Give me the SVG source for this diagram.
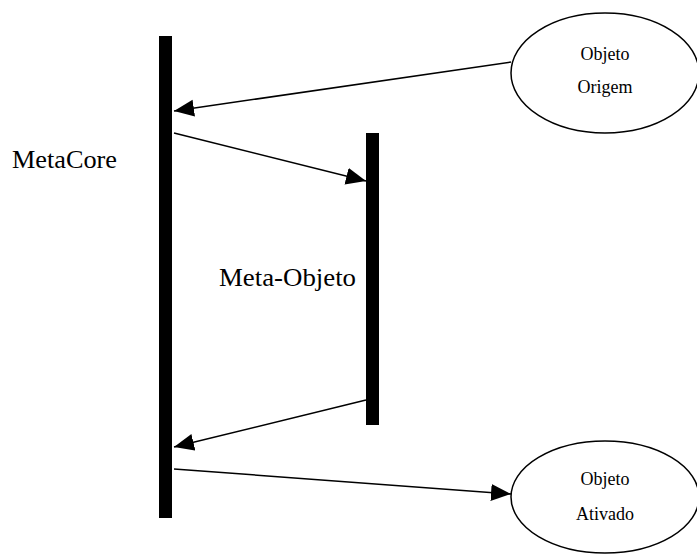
<svg xmlns="http://www.w3.org/2000/svg" width="697" height="554" viewBox="0 0 697 554">
<defs>
<marker id="ah" markerUnits="userSpaceOnUse" markerWidth="22" markerHeight="20" refX="20" refY="8.5" orient="auto">
<path d="M0,0 L20,8.5 L0,17 Z" fill="#000"/>
</marker>
<style>
.lbl{font-family:"Liberation Serif","Times New Roman",serif;fill:#000}
.big{font-size:25px}
.sm{font-size:18px}
.bar{fill:#000}
.ell{fill:#fff;stroke:#000;stroke-width:1.5}
.con{stroke:#000;stroke-width:1.5;fill:none;marker-end:url(#ah)}
</style>
</defs>
<rect width="697" height="554" fill="#fff"/>
<g id="metacore">
<rect class="bar" x="159" y="36" width="13" height="482"/>
<text class="lbl big" x="12" y="168" textLength="105" lengthAdjust="spacingAndGlyphs">MetaCore</text>
</g>
<g id="meta-objeto">
<rect class="bar" x="366" y="133" width="13" height="292"/>
<text class="lbl big" x="219" y="286" textLength="137" lengthAdjust="spacingAndGlyphs">Meta-Objeto</text>
</g>
<g id="objeto-origem">
<ellipse class="ell" cx="605" cy="73" rx="94" ry="60"/>
<text class="lbl sm" x="605" y="60" text-anchor="middle">Objeto</text>
<text class="lbl sm" x="605" y="93" text-anchor="middle">Origem</text>
</g>
<g id="objeto-ativado">
<ellipse class="ell" cx="605" cy="497" rx="94" ry="56"/>
<text class="lbl sm" x="605" y="485" text-anchor="middle">Objeto</text>
<text class="lbl sm" x="605" y="520" text-anchor="middle">Ativado</text>
</g>
<g id="connectors">
<line class="con" x1="511" y1="62" x2="174" y2="111"/>
<line class="con" x1="174" y1="133" x2="366" y2="181"/>
<line class="con" x1="366" y1="400" x2="174" y2="447"/>
<line class="con" x1="174" y1="469" x2="511" y2="494"/>
</g>
</svg>
